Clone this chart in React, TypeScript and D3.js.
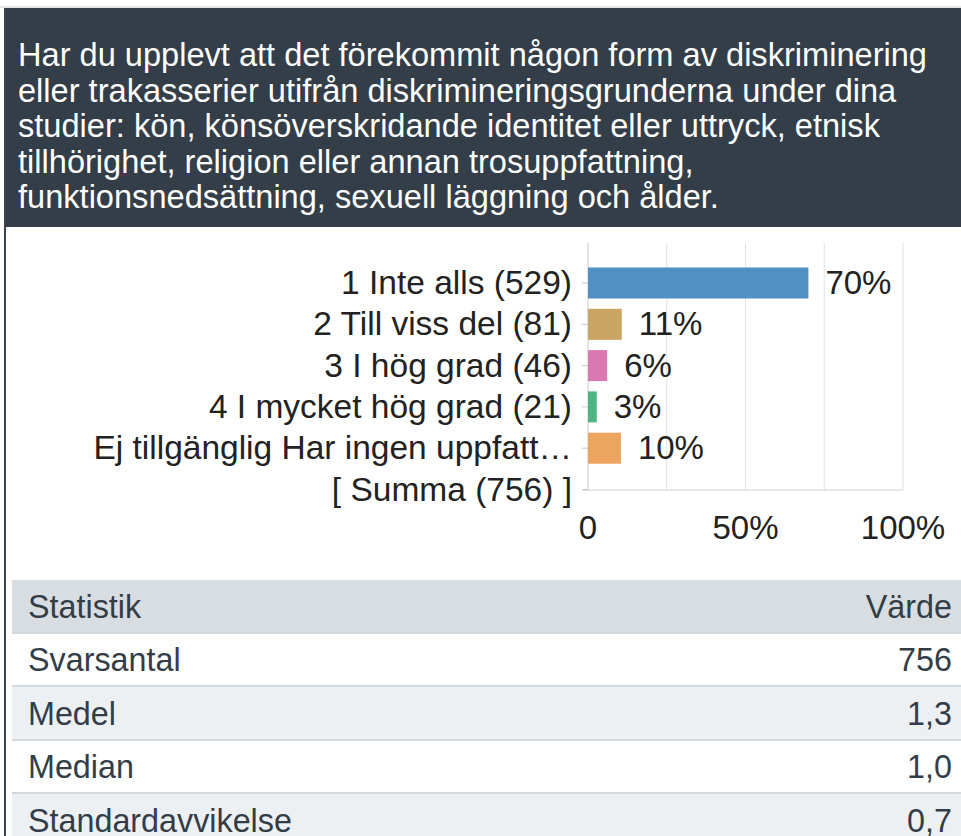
import React from "react";
import * as d3 from "d3";

const titleLines = [
  "Har du upplevt att det förekommit någon form av diskriminering",
  "eller trakasserier utifrån diskrimineringsgrunderna under dina",
  "studier: kön, könsöverskridande identitet eller uttryck, etnisk",
  "tillhörighet, religion eller annan trosuppfattning,",
  "funktionsnedsättning, sexuell läggning och ålder.",
];

const categories = [
  "1 Inte alls (529)",
  "2 Till viss del (81)",
  "3 I hög grad (46)",
  "4 I mycket hög grad (21)",
  "Ej tillgänglig Har ingen uppfatt…",
  "[ Summa (756) ]",
];
const counts = [529, 81, 46, 21, 79, null];
const pctLabels = ["70%", "11%", "6%", "3%", "10%", ""];
const barColors = ["#5190c3", "#c9a462", "#d978b2", "#4fb484", "#eca45e", "none"];
const total = 756;
const xTicks = [0, 0.5, 1];
const xTickLabels = ["0", "50%", "100%"];
const gridTicks = [0, 0.25, 0.5, 0.75, 1];

const statHeader = ["Statistik", "Värde"];
const statNames = ["Svarsantal", "Medel", "Median", "Standardavvikelse"];
const statValues = ["756", "1,3", "1,0", "0,7"];

const W = 961;
const H = 836;
const FONT = "'Liberation Sans', Arial, sans-serif";

export default function App() {
  const x = d3.scaleLinear().domain([0, 1]).range([588, 903]);
  const y = d3.scalePoint<string>().domain(categories).range([283, 489.5]);
  const barH = 31;
  const gridTop = 243;
  const gridBottom = 490;

  const rowY = [580, 633, 686, 740, 793, 846];
  const rowFill = ["#d8dde1", "#ffffff", "#edf0f3", "#ffffff", "#edf0f3"];

  return (
    <svg
      width={W}
      height={H}
      style={{ position: "absolute", left: 0, top: 0, background: "#fff" }}
      fontFamily={FONT}
    >
      <rect x={0} y={0} width={W} height={H} fill="#fff" />
      <line x1={0} x2={W} y1={7} y2={7} stroke="#c8cbce" strokeWidth={1} />
      {/* title box */}
      <rect x={4} y={8} width={W - 4} height={219} fill="#343e48" />
      {titleLines.map((t, i) => (
        <text key={i} x={18} y={66 + i * 35.5} fill="#ffffff" fontSize={32.6}>
          {t}
        </text>
      ))}
      {/* left border */}
      <rect x={4} y={8} width={2} height={H - 8} fill="#3a444e" />

      {/* grid */}
      {gridTicks.map((g, i) => (
        <line
          key={i}
          x1={x(g)}
          x2={x(g)}
          y1={gridTop}
          y2={gridBottom}
          stroke={g === 0 ? "#c9c9c9" : "#e2e2e2"}
          strokeWidth={1}
        />
      ))}
      <line x1={582} x2={x(1)} y1={gridBottom} y2={gridBottom} stroke="#d0d0d0" />
      {categories.map((c, i) => (
        <line key={"t" + i} x1={582} x2={588} y1={y(c)!} y2={y(c)!} stroke="#c9c9c9" />
      ))}

      {/* bars */}
      {categories.map((c, i) =>
        counts[i] == null ? null : (
          <rect
            key={"b" + i}
            x={x(0)}
            y={y(c)! - barH / 2}
            width={x(counts[i]! / total) - x(0)}
            height={barH}
            fill={barColors[i]}
          />
        )
      )}
      {categories.map((c, i) =>
        counts[i] == null ? null : (
          <text
            key={"p" + i}
            x={x(counts[i]! / total) + 17}
            y={y(c)! + 11}
            fontSize={33}
            fill="#222"
          >
            {pctLabels[i]}
          </text>
        )
      )}
      {categories.map((c, i) => (
        <text
          key={"c" + i}
          x={572}
          y={y(c)! + 11}
          fontSize={33.5}
          textAnchor="end"
          fill="#222"
        >
          {c}
        </text>
      ))}
      {xTicks.map((t, i) => (
        <text key={"x" + i} x={x(t)} y={539} fontSize={33} textAnchor="middle" fill="#222">
          {xTickLabels[i]}
        </text>
      ))}

      {/* table */}
      {rowFill.map((f, i) => (
        <rect key={"r" + i} x={12} y={rowY[i]} width={W - 12} height={rowY[i + 1] - rowY[i]} fill={f} />
      ))}
      {[633, 686, 740, 793].map((yy, i) => (
        <line key={"s" + i} x1={12} x2={W} y1={yy} y2={yy} stroke="#d3d8dc" strokeWidth={2} />
      ))}
      <text x={28} y={618} fontSize={32.3} fill="#333d47">{statHeader[0]}</text>
      <text x={952} y={618} fontSize={32.3} fill="#333d47" textAnchor="end">{statHeader[1]}</text>
      {statNames.map((n, i) => (
        <React.Fragment key={"st" + i}>
          <text x={28} y={671 + i * 53.5} fontSize={32.3} fill="#333d47">{n}</text>
          <text x={952} y={671 + i * 53.5} fontSize={32.3} fill="#333d47" textAnchor="end">
            {statValues[i]}
          </text>
        </React.Fragment>
      ))}
    </svg>
  );
}
